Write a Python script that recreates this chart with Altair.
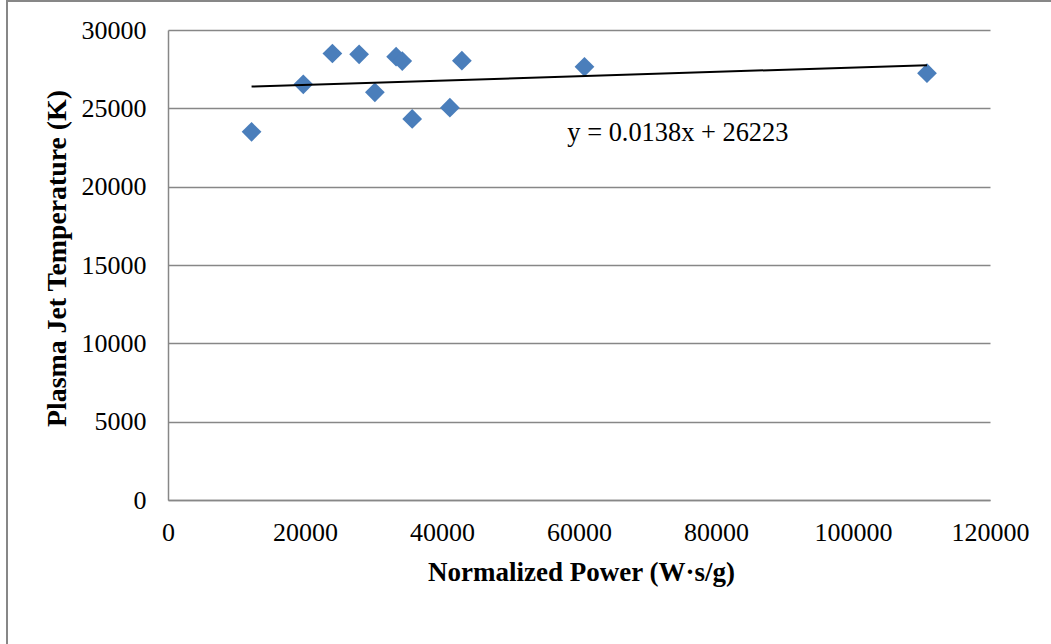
import altair as alt
import pandas as pd

# Data
power = [12200, 19750, 24000, 27900, 33300, 34200, 30200, 35650, 41150, 42900, 60800, 110800]
temperature = [23500, 26530, 28500, 28450, 28300, 28020, 26020, 24320, 25040, 28040, 27650, 27240]

# Trendline coefficients shown on the chart
slope = 0.0138
intercept = 26223
equation_text = ["y = 0.0138x + 26223"]

x_ticks = [0, 20000, 40000, 60000, 80000, 100000, 120000]
y_ticks = [0, 5000, 10000, 15000, 20000, 25000, 30000]

FONT = "Liberation Serif"
GRAY = "#878787"

points_df = pd.DataFrame({"power": power, "temp": temperature})
xmin, xmax = min(power), max(power)
trend_df = pd.DataFrame({
    "power": [xmin, xmax],
    "temp": [slope * xmin + intercept, slope * xmax + intercept],
})
label_df = pd.DataFrame({"power": [58300], "temp": [23400], "text": equation_text})
one_row = pd.DataFrame({"k": [0]})

x_scale = alt.Scale(domain=[0, 120000], nice=False, zero=False)
y_scale = alt.Scale(domain=[0, 30000], nice=False, zero=False)

x_axis = alt.Axis(
    values=x_ticks, format="d", grid=False, ticks=False, tickSize=0,
    labelFlush=False, labelOverlap=False,
    labelPadding=19, labelFont=FONT, labelFontSize=26, labelColor="black",
    domainColor=GRAY, domainWidth=1.5,
    title="Normalized Power (W·s/g)", titleFont=FONT, titleFontSize=27,
    titleFontWeight="bold", titleColor="black",
    titleX=413, titleY=72, titleAlign="center", titleBaseline="middle",
)
y_axis = alt.Axis(
    values=y_ticks, format="d", grid=True, gridColor=GRAY, gridWidth=1.3,
    ticks=False, tickSize=0, labelFlush=False, labelOverlap=False,
    labelPadding=22, labelFont=FONT, labelFontSize=26, labelColor="black",
    domainColor=GRAY, domainWidth=1.5,
    title="Plasma Jet Temperature (K)", titleFont=FONT, titleFontSize=27.8,
    titleFontWeight="bold", titleColor="black",
    titleX=-111, titleY=228, titleAngle=270, titleAlign="center", titleBaseline="middle",
)

points = alt.Chart(points_df).mark_point(
    shape="diamond", filled=True, size=390, color="#4A7EBB", opacity=1
).encode(
    x=alt.X("power:Q", scale=x_scale, axis=x_axis),
    y=alt.Y("temp:Q", scale=y_scale, axis=y_axis),
)

trend = alt.Chart(trend_df).mark_line(color="black", strokeWidth=2).encode(
    x=alt.X("power:Q", scale=x_scale),
    y=alt.Y("temp:Q", scale=y_scale),
)

label = alt.Chart(label_df).mark_text(
    align="left", baseline="middle", font=FONT, fontSize=26.4, color="black"
).encode(
    x=alt.X("power:Q", scale=x_scale),
    y=alt.Y("temp:Q", scale=y_scale),
    text="text:N",
)

frame_left = alt.Chart(one_row).mark_rule(color=GRAY, strokeWidth=2).encode(
    x=alt.value(-161), y=alt.value(-30), y2=alt.value(614)
)
frame_top = alt.Chart(one_row).mark_rule(color=GRAY, strokeWidth=2).encode(
    x=alt.value(-162), x2=alt.value(883), y=alt.value(-29)
)

chart = alt.layer(points, trend, label, frame_left, frame_top).properties(
    width=822, height=470,
    autosize=alt.AutoSizeParams(type="none"),
    padding={"left": 168, "top": 30, "right": 61, "bottom": 144},
    background="white",
).configure_view(stroke=None)

chart.save("out.html", embed_options={"renderer": "svg", "actions": False})
